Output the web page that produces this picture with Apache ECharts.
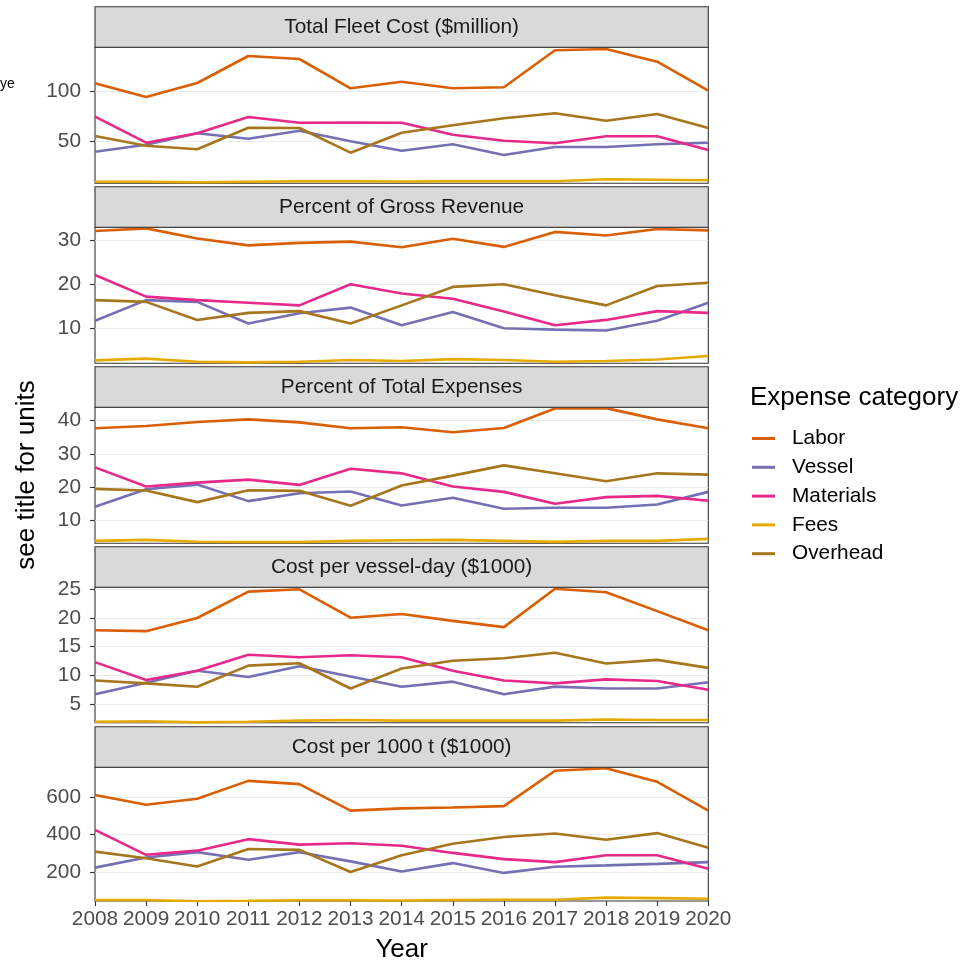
<!DOCTYPE html>
<html><head><meta charset="utf-8">
<script src="https://cdn.jsdelivr.net/npm/echarts@6/dist/echarts.min.js"></script>
<style>html,body{margin:0;padding:0;background:#fff}#c{width:968px;height:964px}</style>
</head><body><div id="c"></div>
<script>
const years = ['2008','2009','2010','2011','2012','2013','2014','2015','2016','2017','2018','2019','2020'];
const categories = ['Labor','Vessel','Materials','Fees','Overhead'];
const palette = ['#D95F02','#7570B3','#E7298A','#E6AB02','#A6761D'];
const panelTitles = ['Total Fleet Cost ($million)','Percent of Gross Revenue','Percent of Total Expenses','Cost per vessel-day ($1000)','Cost per 1000 t ($1000)'];
const yTicks = [[50,100],[10,20,30],[10,20,30,40],[5,10,15,20,25],[200,400,600]];
const yMin = [8, 2.14, 2.96, 1.74, 48];
const yMax = [144, 33.05, 44.05, 25.35, 757];

// Total Fleet Cost ($million)
const fleetLabor     = [108, 94.3, 108.3, 135.3, 132.3, 103, 109.6, 103, 104, 141, 142.3, 129.6, 100.6];
const fleetVessel    = [39.6, 46.5, 58, 52.6, 60.6, 50, 40.6, 47, 36.3, 44.3, 44.3, 47, 48.6];
const fleetMaterials = [74.6, 48.6, 58, 74.3, 68.6, 68.8, 68.6, 56.6, 50.6, 48, 55, 55, 41.3];
const fleetFees      = [9.6, 9.5, 9, 9.5, 10, 10, 9.8, 10, 10, 10, 12, 11.5, 11];
const fleetOverhead  = [55.3, 45.6, 42, 63.6, 63.3, 38.6, 58.6, 66, 73, 78, 70.6, 77.3, 63.3];
// Percent of Gross Revenue
const grossLabor     = [32.2, 32.8, 30.5, 28.95, 29.5, 29.8, 28.5, 30.45, 28.6, 32, 31.2, 32.65, 32.35];
const grossVessel    = [11.8, 16.5, 16.1, 11.2, 13.5, 14.8, 10.8, 13.8, 10.1, 9.8, 9.6, 11.8, 15.9];
const grossMaterials = [22.2, 17.3, 16.5, 15.9, 15.3, 20.1, 18, 16.8, 13.9, 10.8, 12, 14, 13.6];
const grossFees      = [2.8, 3.2, 2.5, 2.35, 2.5, 2.9, 2.65, 3.1, 2.9, 2.5, 2.65, 3, 3.8];
const grossOverhead  = [16.5, 16.1, 12, 13.6, 14, 11.2, 15.3, 19.5, 20.1, 17.6, 15.3, 19.7, 20.45];
// Percent of Total Expenses
const expLabor       = [37.7, 38.4, 39.6, 40.4, 39.5, 37.7, 38, 36.5, 37.8, 43.7, 43.8, 40.4, 37.7];
const expVessel      = [14, 19.3, 20.7, 15.7, 18.1, 18.6, 14.4, 16.7, 13.4, 13.7, 13.7, 14.7, 18.5];
const expMaterials   = [25.9, 20.1, 21.3, 22.2, 20.6, 25.5, 24.1, 20.1, 18.5, 14.9, 16.9, 17.3, 15.8];
const expFees        = [3.7, 4.0, 3.45, 3.35, 3.35, 3.7, 3.9, 4.0, 3.7, 3.4, 3.7, 3.7, 4.3];
const expOverhead    = [19.4, 18.9, 15.4, 19, 18.8, 14.3, 20.4, 23.4, 26.5, 24.1, 21.7, 24.1, 23.7];
// Cost per vessel-day ($1000)
const dayLabor       = [17.86, 17.7, 20, 24.6, 25, 20.05, 20.7, 19.5, 18.4, 25.1, 24.5, 21.2, 17.86];
const dayVessel      = [6.7, 8.7, 10.8, 9.7, 11.6, 9.8, 8, 8.9, 6.7, 8.03, 7.7, 7.7, 8.8];
const dayMaterials   = [12.3, 9.2, 10.8, 13.6, 13.15, 13.5, 13.15, 10.8, 9.1, 8.6, 9.3, 9, 7.5];
const dayFees        = [1.9, 2.0, 1.8, 1.9, 2.1, 2.2, 2.1, 2.1, 2.1, 2.1, 2.3, 2.2, 2.2];
const dayOverhead    = [9.1, 8.6, 8, 11.7, 12.1, 7.7, 11.2, 12.55, 12.98, 13.95, 12.05, 12.7, 11.3];
// Cost per 1000 t ($1000)
const tonLabor       = [610, 558, 590, 685, 668, 527, 539, 544, 551, 739, 752, 680, 527];
const tonVessel      = [225, 279, 307, 267, 307, 258, 204, 249, 197, 230, 237, 245, 254];
const tonMaterials   = [425, 293, 315, 376, 347, 354, 341, 303, 270, 254, 291, 291, 219];
const tonFees        = [53, 53, 47, 49, 52, 52, 51, 53, 55, 55, 66, 63, 60];
const tonOverhead    = [310, 275, 231, 324, 319, 202, 291, 352, 387, 406, 373, 408, 331];

const panelData = [
  [fleetLabor, fleetVessel, fleetMaterials, fleetFees, fleetOverhead],
  [grossLabor, grossVessel, grossMaterials, grossFees, grossOverhead],
  [expLabor, expVessel, expMaterials, expFees, expOverhead],
  [dayLabor, dayVessel, dayMaterials, dayFees, dayOverhead],
  [tonLabor, tonVessel, tonMaterials, tonFees, tonOverhead]
];

// layout
const FONT = '"Liberation Sans", Arial, Helvetica, sans-serif';
const L = 95, W = 613.3;
const tops = [47.3, 227.3, 407.3, 587.3, 767.3];
const heights = [136, 136, 136, 135.4, 135.4];
const stripH = 40.6;
const n = panelTitles.length;

const grids = [], xAxes = [], yAxes = [], series = [], graphics = [];
for (let p = 0; p < n; p++) {
  const last = p === n - 1;
  grids.push({left: L, top: tops[p], width: W, height: heights[p], show: true,
    borderColor: '#333333', borderWidth: 1.1, backgroundColor: 'transparent'});
  xAxes.push({type: 'category', gridIndex: p, data: years, boundaryGap: false,
    axisLine: {show: false},
    axisTick: {show: last, interval: 0, length: 5, lineStyle: {color: '#333333', width: 1.1}, alignWithLabel: true},
    axisLabel: {show: last, interval: 0, hideOverlap: false, fontSize: 20.8, color: '#4D4D4D', fontFamily: FONT, margin: 8},
    splitLine: {show: false},
    name: last ? 'Year' : '', nameLocation: 'middle', nameGap: 36,
    nameTextStyle: {fontSize: 26, color: '#000', fontFamily: FONT}
  });
  yAxes.push({type: 'value', gridIndex: p, min: yMin[p], max: yMax[p],
    axisLine: {show: false},
    axisTick: {show: true, length: 5, customValues: yTicks[p], lineStyle: {color: '#333333', width: 1.1}},
    axisLabel: {customValues: yTicks[p], fontSize: 20.8, color: '#4D4D4D', fontFamily: FONT, margin: 14},
    splitLine: {show: true, lineStyle: {color: '#EBEBEB', width: 1.1}}
  });
  categories.forEach((c, k) => {
    series.push({type: 'line', name: c, xAxisIndex: p, yAxisIndex: p, data: panelData[p][k],
      symbol: 'none', color: palette[k], lineStyle: {width: 2.6, color: palette[k]}, z: 2});
  });
  graphics.push({type: 'rect', silent: true, z: 10,
    shape: {x: L, y: tops[p] - stripH, width: W, height: stripH},
    style: {fill: '#D9D9D9', stroke: '#333333', lineWidth: 1.1}});
  graphics.push({type: 'text', silent: true, z: 11, x: L + W / 2, y: tops[p] - stripH / 2,
    style: {text: panelTitles[p], font: '20.8px ' + FONT, fill: '#1A1A1A',
      align: 'center', verticalAlign: 'middle', textAlign: 'center', textVerticalAlign: 'middle'}});
}
graphics.push({type: 'text', silent: true, x: 27, y: 475, rotation: Math.PI / 2,
  style: {text: 'see title for units', font: '26px ' + FONT, fill: '#000',
    align: 'center', verticalAlign: 'middle', textAlign: 'center', textVerticalAlign: 'middle'}});
graphics.push({type: 'text', silent: true, x: 750, y: 398,
  style: {text: 'Expense category', font: '26px ' + FONT, fill: '#000',
    align: 'left', verticalAlign: 'middle', textAlign: 'left', textVerticalAlign: 'middle'}});
graphics.push({type: 'text', silent: true, x: 0, y: 84,
  style: {text: 'ye', font: '14px ' + FONT, fill: '#000',
    align: 'left', verticalAlign: 'middle', textAlign: 'left', textVerticalAlign: 'middle'}});

const chart = echarts.init(document.getElementById('c'), null, {renderer: 'canvas'});
chart.setOption({
  animation: false,
  backgroundColor: '#ffffff',
  grid: grids, xAxis: xAxes, yAxis: yAxes, series: series,
  legend: {data: categories, orient: 'vertical', left: 752, top: 428, padding: 0,
    icon: 'rect', itemWidth: 23, itemHeight: 3, itemGap: 7.8,
    textStyle: {fontSize: 20.8, color: '#000', fontFamily: FONT, lineHeight: 20, padding: [0, 0, 0, 12]}},
  graphic: graphics
});
</script></body></html>
